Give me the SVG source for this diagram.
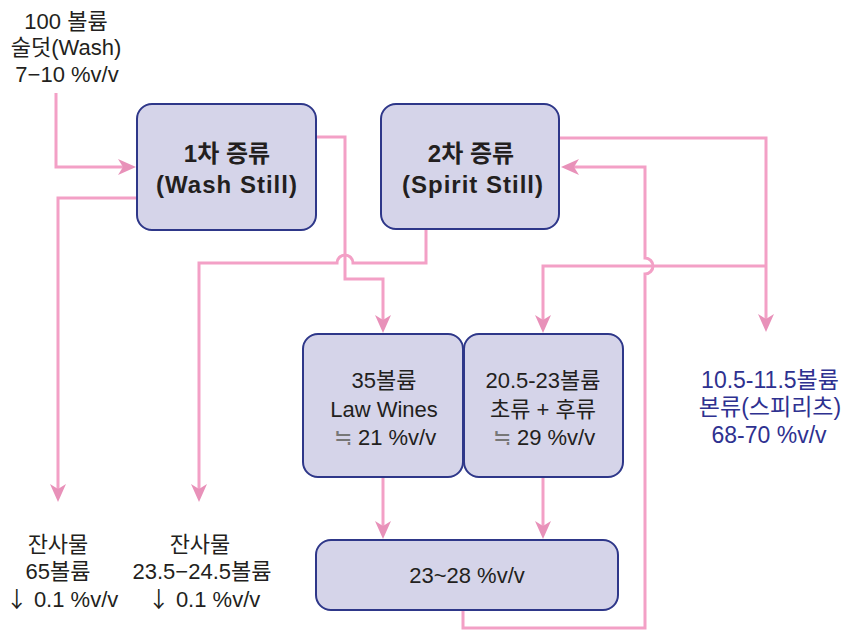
<svg xmlns="http://www.w3.org/2000/svg" width="844" height="631" viewBox="0 0 844 631">
<style>
.box{fill:#D5D4E9;stroke:#2E3789;stroke-width:2}
.t{font-family:"Liberation Sans","Noto Sans CJK KR",sans-serif;font-size:22px;fill:#231F20;text-anchor:middle}
.b{font-family:"Liberation Sans","Noto Sans CJK KR",sans-serif;font-size:24px;font-weight:bold;fill:#231F20;text-anchor:middle}
.blue{fill:#2E3190;font-size:23px}
.sym{font-family:"Noto Sans CJK KR",sans-serif}
.gr{fill:#777777}
.ln{fill:none;stroke:#F3A0C6;stroke-width:3}
.ar{marker-end:url(#ah)}
</style>
<defs>
<marker id="ah" markerUnits="userSpaceOnUse" viewBox="0 0 18 16" markerWidth="18" markerHeight="16" refX="10" refY="8" orient="auto">
<path d="M0,0 L18,8 L0,16 L5,8 z" fill="#E891B9"/>
</marker>
</defs>
<g id="connectors">
<path class="ln ar" d="M56,93 V167 H128"/>
<path class="ln ar" d="M137,198 H58 V494"/>
<path class="ln ar" d="M316,137 H345 V279 H383 V325"/>
<path class="ln ar" d="M426,229 V263 H353 A8,8 0 0 0 337,263 H199 V494"/>
<path class="ln ar" d="M559,138 H766 V324"/>
<path class="ln ar" d="M766,266 H543 V325"/>
<path class="ln ar" d="M463,610 V628 H645 V274 A8,8 0 0 0 645,258 V167 H569"/>
<path class="ln ar" d="M383,477 V531"/>
<path class="ln ar" d="M543,477 V531"/>
</g>
<g id="input">
<text class="t" x="66" y="29">100 볼륨</text>
<text class="t" x="66" y="55">술덧(Wash)</text>
<text class="t" x="67" y="82">7−10 %v/v</text>
</g>
<g id="wash-still">
<rect class="box" x="137" y="104" width="179" height="126" rx="15"/>
<text class="b" x="227" y="162">1차 증류</text>
<text class="b" x="227" y="193" letter-spacing="1">(Wash Still)</text>
</g>
<g id="spirit-still">
<rect class="box" x="381" y="104" width="178" height="125" rx="15"/>
<text class="b" x="471" y="162">2차 증류</text>
<text class="b" x="473" y="193" letter-spacing="1">(Spirit Still)</text>
</g>
<g id="low-wines">
<rect class="box" x="303" y="334" width="160" height="143" rx="15"/>
<text class="t" x="384" y="388">35볼륨</text>
<text class="t" x="384" y="417">Law Wines</text>
<text class="t" x="385" y="445"><tspan class="gr">≒</tspan> 21 %v/v</text>
</g>
<g id="foreshots-feints">
<rect class="box" x="464" y="334" width="159" height="143" rx="15"/>
<text class="t" x="543" y="388">20.5-23볼륨</text>
<text class="t" x="543" y="417">초류 + 후류</text>
<text class="t" x="544" y="445"><tspan class="gr">≒</tspan> 29 %v/v</text>
</g>
<g id="mix">
<rect class="box" x="316" y="540" width="302" height="70" rx="15"/>
<text class="t" x="467" y="583">23~28 %v/v</text>
</g>
<g id="residue1">
<text class="t" x="58" y="552">잔사물</text>
<text class="t" x="58" y="579">65볼륨</text>
<text class="t" x="62" y="607"><tspan class="sym">↓</tspan> 0.1 %v/v</text>
</g>
<g id="residue2">
<text class="t" x="200" y="552">잔사물</text>
<text class="t" x="202" y="579">23.5−24.5볼륨</text>
<text class="t" x="204" y="607"><tspan class="sym">↓</tspan> 0.1 %v/v</text>
</g>
<g id="spirit">
<text class="t blue" x="770" y="388">10.5-11.5볼륨</text>
<text class="t blue" x="770" y="415">본류(스피리츠)</text>
<text class="t blue" x="769" y="443">68-70 %v/v</text>
</g>
</svg>
